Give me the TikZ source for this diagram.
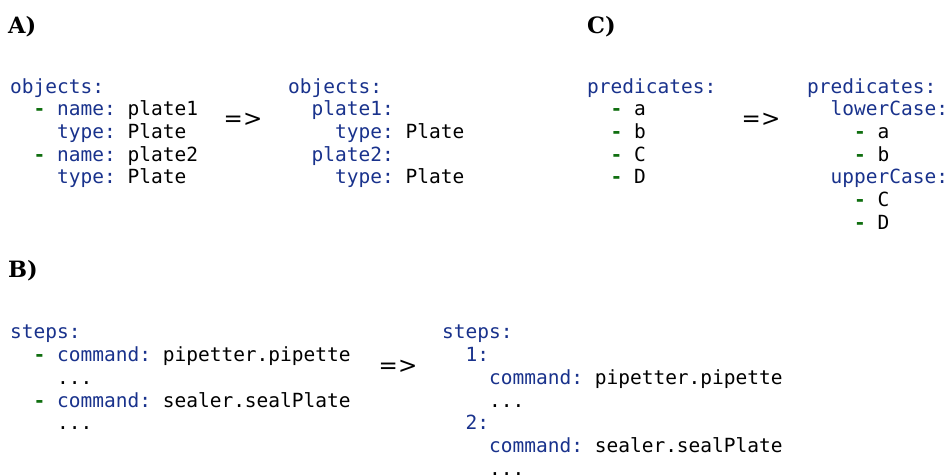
\documentclass[tikz,border=0pt]{standalone}
\usepackage{fontspec}
\setmonofont{DejaVu Sans Mono}
\newfontfamily\arrowfont{DejaVu Sans}
\newfontfamily\panelfont{DejaVu Serif}
\usepackage{tikz}
\definecolor{yamlkey}{RGB}{25,50,140}
\definecolor{yamldash}{RGB}{15,110,15}
\newcommand\ykey[1]{\textcolor{yamlkey}{#1}}
\newcommand\ydash{\textcolor{yamldash}{\bfseries -}}
\newcommand\ind[1]{\hspace*{#1\fontcharwd\font`x}}
\tikzset{
  code/.style={anchor=north west, inner sep=0pt, align=left,
    font=\ttfamily\fontsize{19.5}{22.7}\selectfont,
    execute at begin node=\strut},
  panel/.style={anchor=base west, inner sep=0pt,
    font=\panelfont\bfseries\fontsize{22.5}{26}\selectfont},
  maps/.style={inner sep=0pt, font=\arrowfont\fontsize{23}{26}\selectfont},
}

\begin{document}
\begin{tikzpicture}[x=1pt, y=-1pt]
    \useasboundingbox (0, 0) rectangle (948, 476);

    % panel labels
    \node (la) [panel] at (8, 34) {A)};
    \node (lb) [panel] at (8, 277) {B)};
    \node (lc) [panel] at (587, 34) {C)};

    % A) objects
    \node (objlist) [code] at (10, 78.1) {\ykey{objects:}\\
        \ind{2}\ydash{} \ykey{name:} plate1\\
        \ind{4}\ykey{type:} Plate\\
        \ind{2}\ydash{} \ykey{name:} plate2\\
        \ind{4}\ykey{type:} Plate};
    \node (objmap) [maps] at (243, 120) {=>};
    \node (objdict) [code] at (288, 78.1) {\ykey{objects:}\\
        \ind{2}\ykey{plate1:}\\
        \ind{4}\ykey{type:} Plate\\
        \ind{2}\ykey{plate2:}\\
        \ind{4}\ykey{type:} Plate};

    % C) predicates
    \node (predlist) [code] at (587, 78.1) {\ykey{predicates:}\\
        \ind{2}\ydash{} a\\
        \ind{2}\ydash{} b\\
        \ind{2}\ydash{} C\\
        \ind{2}\ydash{} D};
    \node (predmap) [maps] at (761, 120) {=>};
    \node (preddict) [code] at (807, 78.1) {\ykey{predicates:}\\
        \ind{2}\ykey{lowerCase:}\\
        \ind{4}\ydash{} a\\
        \ind{4}\ydash{} b\\
        \ind{2}\ykey{upperCase:}\\
        \ind{4}\ydash{} C\\
        \ind{4}\ydash{} D};

    % B) steps
    \node (steplist) [code] at (10, 325.1) {\ykey{steps:}\\
        \ind{2}\ydash{} \ykey{command:} pipetter.pipette\\
        \ind{4}...\\
        \ind{2}\ydash{} \ykey{command:} sealer.sealPlate\\
        \ind{4}...};
    \node (stepmap) [maps] at (398, 367) {=>};
    \node (stepdict) [code] at (442, 325.1) {\ykey{steps:}\\
        \ind{2}\ykey{1:}\\
        \ind{4}\ykey{command:} pipetter.pipette\\
        \ind{4}...\\
        \ind{2}\ykey{2:}\\
        \ind{4}\ykey{command:} sealer.sealPlate\\
        \ind{4}...};
\end{tikzpicture}
\end{document}
